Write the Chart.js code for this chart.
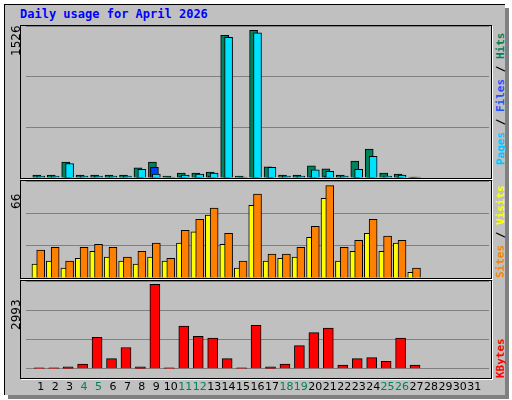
<!DOCTYPE html>
<html>
<head>
<meta charset="utf-8">
<script src="https://cdn.jsdelivr.net/npm/chart.js@4"></script>
<style>
  body { margin: 0; background: #fff; width: 512px; height: 400px; overflow: hidden; position: relative; font-family: "DejaVu Sans Mono", monospace; }
  #frame { position: absolute; left: 4px; top: 4px; width: 500px; height: 390px; background: #c0c0c0; box-shadow: 4px 4px 0 #808080; border-top: 1px solid #000; border-left: 1px solid #000; }
  #title { position: absolute; left: 20px; top: 7px; color: #0000ff; font-weight: bold; font-size: 12px; }
  .panel { position: absolute; left: 20px; width: 470px; border: 1px solid #000; box-shadow: 1px 1px 0 #fff; }
  .panel canvas { position: absolute; left: 0; top: 0; }
  .lab { position: absolute; transform-origin: left top; transform: rotate(-90deg); white-space: nowrap; font-size: 11px; }
  .num { font-family: "DejaVu Sans", sans-serif; color: #000; font-size: 12px; }
  .leg { font-weight: bold; font-size: 11px; }
</style>
</head>
<body>
<div id="frame"></div>
<div id="title">Daily usage for April 2026</div>

<div class="panel" style="top:25px;height:152px"><canvas id="c1"></canvas></div>
<div class="panel" style="top:180px;height:97px"><canvas id="c2"></canvas></div>
<div class="panel" style="top:280px;height:97px"></div>
<canvas id="c3" style="position:absolute;left:21px;top:281px"></canvas>

<div class="lab num" style="left:9px;top:56px">1526</div>
<div class="lab num" style="left:9px;top:209px">66</div>
<div class="lab num" style="left:9px;top:330px">2993</div>

<div class="lab leg" style="left:494px;top:165px"><span style="color:#00c8ff">Pages</span><span style="color:#000"> / </span><span style="color:#2050ff">Files</span><span style="color:#000"> / </span><span style="color:#00805c">Hits</span></div>
<div class="lab leg" style="left:494px;top:278px"><span style="color:#ff8000">Sites</span><span style="color:#000"> / </span><span style="color:#ffff00">Visits</span></div>
<div class="lab leg" style="left:494px;top:378px"><span style="color:#ff0000">KBytes</span></div>

<script>
const days = [];
for (let d = 1; d <= 31; d++) days.push(d);
const weekend = [4, 5, 11, 12, 18, 19, 25, 26];

const hits   = [30, 30, 165, 30, 30, 30, 30, 105, 165, 20, 52, 50, 62, 1475, 20, 1526, 115, 30, 30, 125, 95, 30, 175, 300, 50, 40, 10];
const files  = [5, 5, 10, 5, 5, 5, 5, 8, 110, 5, 15, 10, 20, 10, 5, 10, 8, 5, 5, 15, 20, 5, 8, 10, 5, 10, 5];
const pages  = [20, 20, 150, 20, 20, 20, 20, 90, 40, 10, 30, 40, 50, 1455, 10, 1500, 110, 20, 20, 85, 70, 20, 90, 225, 20, 30, 10];
const visits = [10, 12, 7, 14, 19, 15, 12, 10, 15, 12, 25, 33, 45, 24, 7, 52, 12, 14, 15, 29, 57, 12, 19, 32, 19, 25, 4];
const sites  = [20, 22, 12, 22, 24, 22, 15, 19, 25, 14, 34, 42, 50, 32, 12, 60, 17, 17, 22, 37, 66, 22, 27, 42, 30, 27, 7];
const kbytes = [33, 33, 66, 164, 1118, 362, 756, 66, 2993, 33, 1512, 1151, 1085, 362, 33, 1545, 66, 164, 822, 1282, 1447, 132, 362, 395, 263, 1085, 132];

// shift each series a little along the day axis so the bars overlap like the original
function pts(values, shift) {
  return values.map((v, i) => ({ x: days[i] + shift, y: v }));
}

function makeChart(id, w, h, datasets, max, showX) {
  const cv = document.getElementById(id);
  cv.width = w; cv.height = h;
  cv.style.width = w + 'px'; cv.style.height = h + 'px';
  return new Chart(cv, {
    type: 'bar',
    data: { datasets: datasets },
    options: {
      responsive: false,
      animation: false,
      layout: { padding: { left: 5, right: 2, top: 0, bottom: 0 } },
      plugins: { legend: { display: false }, tooltip: { enabled: false } },
      datasets: { bar: { grouped: false, borderColor: '#000', borderWidth: 1, borderSkipped: 'bottom' } },
      scales: {
        x: {
          type: 'linear', min: 0.5, max: 31.5,
          display: showX,
          grid: { display: false },
          border: { display: false },
          afterBuildTicks: (s) => { s.ticks = days.map(d => ({ value: d })); },
          ticks: {
            autoSkip: false, maxRotation: 0, padding: 4,
            font: { family: 'DejaVu Sans', size: 11 },
            callback: (v) => String(v),
            color: (c) => weekend.includes(c.tick.value) ? '#00805c' : '#000'
          }
        },
        y: {
          min: 0, max: max,
          afterFit: (s) => { s.width = 0; },
          border: { display: false },
          grid: { color: '#808080', lineWidth: 1, drawTicks: false },
          ticks: { display: false, stepSize: max / 3 }
        }
      }
    }
  });
}

// first dataset is drawn on top
makeChart('c1', 470, 152, [
  { data: pts(pages, 0), backgroundColor: '#00e0ff', barThickness: 8 },
  { data: pts(files, -0.13), backgroundColor: '#0040ff', barThickness: 8 },
  { data: pts(hits, -0.27), backgroundColor: '#00805c', barThickness: 8 }
], 1526 * 1.03, false);

makeChart('c2', 470, 97, [
  { data: pts(sites, 0), backgroundColor: '#ff8000', barThickness: 8 },
  { data: pts(visits, -0.33), backgroundColor: '#ffff00', barThickness: 8 }
], 66 * 1.05, false);

makeChart('c3', 470, 117, [
  { data: pts(kbytes, -0.1), backgroundColor: '#ff0000', barThickness: 10 }
], 2993 * 1.04, true);
</script>
</body>
</html>
